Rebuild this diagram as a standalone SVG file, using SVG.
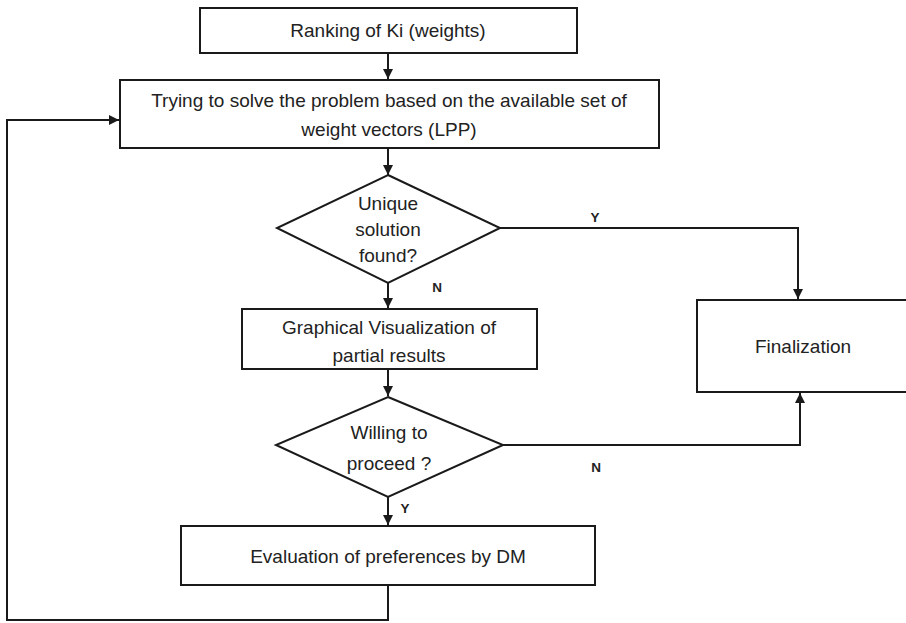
<svg xmlns="http://www.w3.org/2000/svg" width="906" height="623" viewBox="0 0 906 623">
  <style>
    .box { fill: #ffffff; stroke: #1a1a1a; stroke-width: 2; }
    .lbl { font-family: "Liberation Sans", Arial, sans-serif; font-size: 19px; fill: #222; text-anchor: middle; }
    .yn { font-family: "Liberation Sans", Arial, sans-serif; font-size: 13.5px; font-weight: bold; fill: #222; text-anchor: middle; }
    .wire { fill: none; stroke: #1a1a1a; stroke-width: 2; }
  </style>
  <defs>
    <marker id="arrow" viewBox="0 0 10 10" refX="10" refY="5" markerWidth="5" markerHeight="5" orient="auto" markerUnits="strokeWidth">
      <path d="M0,0 L10,5 L0,10 z" fill="#1a1a1a"/>
    </marker>
  </defs>
  <rect width="906" height="623" fill="#ffffff"/>

  <g id="connectors">
    <path class="wire" d="M388,53 V79" marker-end="url(#arrow)"/>
    <path class="wire" d="M388,148 V175" marker-end="url(#arrow)"/>
    <path class="wire" d="M500,228 H798 V299" marker-end="url(#arrow)"/>
    <path class="wire" d="M388,283 V308" marker-end="url(#arrow)"/>
    <path class="wire" d="M388,369 V396" marker-end="url(#arrow)"/>
    <path class="wire" d="M503,445 H800 V393" marker-end="url(#arrow)"/>
    <path class="wire" d="M388,497 V525" marker-end="url(#arrow)"/>
    <path class="wire" d="M388,585 V620 H7 V120 H119" marker-end="url(#arrow)"/>
    <text class="yn" x="595" y="222">Y</text>
    <text class="yn" x="437" y="292">N</text>
    <text class="yn" x="596" y="472">N</text>
    <text class="yn" x="405" y="513">Y</text>
  </g>

  <g id="ranking">
    <rect class="box" x="200" y="8" width="377" height="45"/>
    <text class="lbl" x="388" y="37">Ranking of Ki (weights)</text>
  </g>

  <g id="solve">
    <rect class="box" x="120" y="80" width="539" height="68"/>
    <text class="lbl" x="389" y="107">Trying to solve the problem based on the available set of</text>
    <text class="lbl" x="389" y="136">weight vectors (LPP)</text>
  </g>

  <g id="unique">
    <polygon class="box" points="388,175 500,228 388,283 277,228"/>
    <text class="lbl" x="388" y="210">Unique</text>
    <text class="lbl" x="388" y="236">solution</text>
    <text class="lbl" x="388" y="262">found?</text>
  </g>

  <g id="visualization">
    <rect class="box" x="242" y="309" width="295" height="60"/>
    <text class="lbl" x="389" y="334">Graphical Visualization of</text>
    <text class="lbl" x="389" y="362">partial results</text>
  </g>

  <g id="willing">
    <polygon class="box" points="388,397 503,445 388,497 276,445"/>
    <text class="lbl" x="389" y="439">Willing to</text>
    <text class="lbl" x="389" y="470">proceed ?</text>
  </g>

  <g id="evaluation">
    <rect class="box" x="181" y="526" width="414" height="59"/>
    <text class="lbl" x="388" y="563">Evaluation of preferences by DM</text>
  </g>

  <g id="finalization">
    <rect class="box" x="697" y="300" width="212" height="92"/>
    <text class="lbl" x="803" y="353">Finalization</text>
  </g>
</svg>
